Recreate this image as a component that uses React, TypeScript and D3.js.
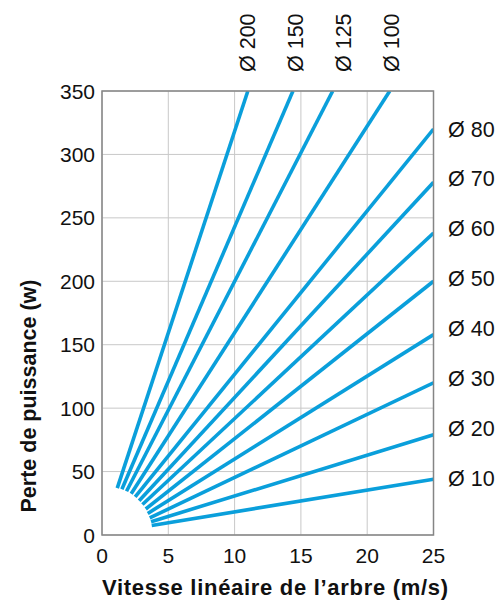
import React from "react";
import * as d3 from "d3";

const diameters = [200, 150, 125, 100, 80, 70, 60, 50, 40, 30, 20, 10];
const startSpeed = [1.15, 1.5, 1.85, 2.2, 2.5, 2.8, 3.05, 3.3, 3.45, 3.6, 3.7, 3.75];
const startLoss = [37, 36, 34.5, 32.5, 30, 27, 24, 20.5, 17, 13.5, 10.5, 7.5];
const endSpeed = [11.0, 14.4, 17.4, 21.7, 25, 25, 25, 25, 25, 25, 25, 25];
const endLoss = [350, 350, 350, 350, 320, 278, 238, 200, 158, 120, 79, 44];
const xTicks = [0, 5, 10, 15, 20, 25];
const yTicks = [0, 50, 100, 150, 200, 250, 300, 350];
const topLabels = ["Ø 200", "Ø 150", "Ø 125", "Ø 100"];
const rightLabels = ["Ø 80", "Ø 70", "Ø 60", "Ø 50", "Ø 40", "Ø 30", "Ø 20", "Ø 10"];

const W = 504;
const H = 603;
const left = 102;
const right = 433.5;
const top = 91;
const bottom = 535;
const blue = "#0a9fdb";
const font = "'Liberation Sans', Arial, Helvetica, sans-serif";

export default function App() {
  const x = d3.scaleLinear().domain([0, 25]).range([left, right]);
  const y = d3.scaleLinear().domain([0, 350]).range([bottom, top]);
  const line = d3
    .line<[number, number]>()
    .x((d) => x(d[0]))
    .y((d) => y(d[1]));

  return (
    <svg
      width={W}
      height={H}
      style={{ position: "absolute", left: 0, top: 0, background: "#fff" }}
    >
      <defs>
        <clipPath id="plotclip">
          <rect x={left} y={top} width={right - left} height={bottom - top} />
        </clipPath>
      </defs>
      {xTicks.map((t) => (
        <line key={"gx" + t} x1={x(t)} x2={x(t)} y1={top} y2={bottom} stroke="#c8c8c8" strokeWidth={1} />
      ))}
      {yTicks.map((t) => (
        <line key={"gy" + t} x1={left} x2={right} y1={y(t)} y2={y(t)} stroke="#c8c8c8" strokeWidth={1} />
      ))}
      <g clipPath="url(#plotclip)">
        {diameters.map((d, i) => (
          <path
            key={"l" + d}
            d={line([
              [startSpeed[i], startLoss[i]],
              [endSpeed[i], endLoss[i]],
            ]) || ""}
            fill="none"
            stroke={blue}
            strokeWidth={3.6}
          />
        ))}
      </g>
      <rect x={left} y={top} width={right - left} height={bottom - top} fill="none" stroke="#858585" strokeWidth={1.5} />
      {xTicks.map((t) => (
        <text key={"tx" + t} x={x(t)} y={563} textAnchor="middle" fontFamily={font} fontSize={21} fill="#111">
          {t}
        </text>
      ))}
      {yTicks.map((t) => (
        <text key={"ty" + t} x={95} y={y(t) + 7.5} textAnchor="end" fontFamily={font} fontSize={21} fill="#111">
          {t}
        </text>
      ))}
      {topLabels.map((l, i) => (
        <text
          key={"tl" + l}
          transform={`translate(${254.5 + i * 48.3},72) rotate(-90)`}
          textAnchor="start"
          fontFamily={font}
          fontSize={21.5}
          fill="#111"
        >
          {l}
        </text>
      ))}
      {rightLabels.map((l, i) => (
        <text key={"rl" + l} x={448} y={129 + i * 49.9 + 7.5} fontFamily={font} fontSize={21.5} fill="#111">
          {l}
        </text>
      ))}
      <text x={102} y={595} fontFamily={font} fontSize={22} fontWeight="bold" letterSpacing={0.7} fill="#111">
        Vitesse linéaire de l’arbre (m/s)
      </text>
      <text
        transform={`translate(36,${396}) rotate(-90)`}
        textAnchor="middle"
        fontFamily={font}
        fontSize={21.5}
        fontWeight="bold"
        fill="#111"
      >
        Perte de puissance (w)
      </text>
    </svg>
  );
}
